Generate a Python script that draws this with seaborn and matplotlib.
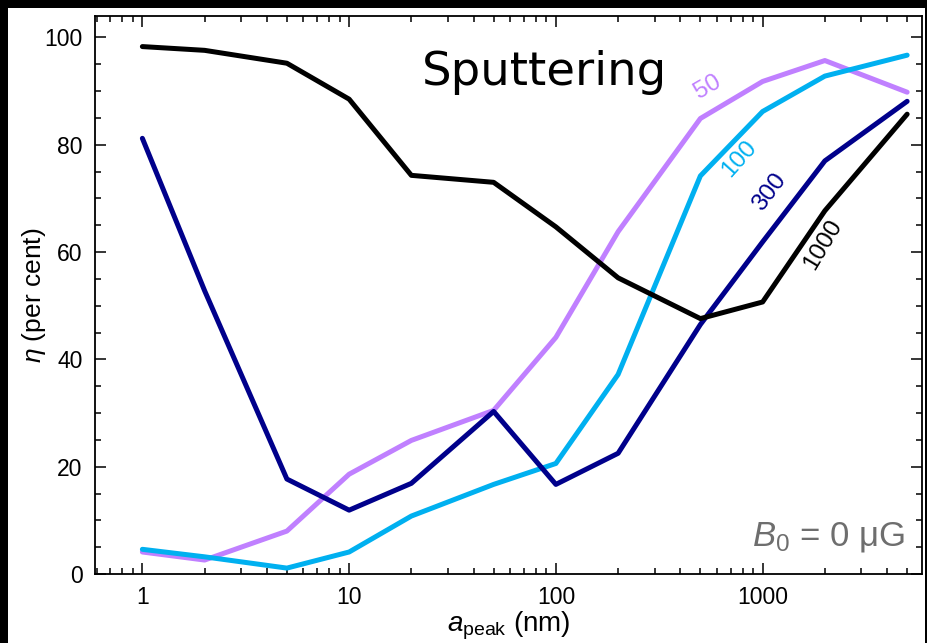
import numpy as np
import pandas as pd
import matplotlib
matplotlib.use("Agg")
import matplotlib.pyplot as plt
from matplotlib.patches import Rectangle
from matplotlib.ticker import FixedLocator, NullFormatter, MultipleLocator
import seaborn as sns

a_peak = [1, 2, 5, 10, 20, 50, 100, 200, 500, 1000, 2000, 5000]
eta_50 = [4.1, 2.6, 8.0, 18.6, 24.9, 30.5, 44.1, 63.8, 84.9, 91.8, 95.7, 89.8]
eta_100 = [4.6, 3.2, 1.1, 4.1, 10.8, 16.7, 20.6, 37.2, 74.2, 86.2, 92.8, 96.7]
eta_300 = [81.2, 52.8, 17.7, 11.9, 16.9, 30.3, 16.7, 22.5, 46.5, 61.9, 77.0, 88.1]
eta_1000 = [98.3, 97.6, 95.2, 88.5, 74.3, 73.0, 64.7, 55.2, 47.6, 50.7, 67.7, 85.7]
series_names = ["50", "100", "300", "1000"]
series_colors = ["#C080FF", "#00B0F0", "#00008B", "#000000"]
x_ticks = [1, 10, 100, 1000]
x_ticklabels = ["1", "10", "100", "1000"]
y_ticks = [0, 20, 40, 60, 80, 100]

rows = []
for name, vals in zip(series_names, [eta_50, eta_100, eta_300, eta_1000]):
    for x, v in zip(a_peak, vals):
        rows.append({"a": x, "eta": v, "n": name})
df = pd.DataFrame(rows)

sns.set_style("ticks")
plt.rcParams["font.family"] = ["Liberation Sans", "DejaVu Sans"]
plt.rcParams["mathtext.fontset"] = "custom"
plt.rcParams["mathtext.rm"] = "Liberation Sans"
plt.rcParams["mathtext.it"] = "Liberation Sans:italic"
plt.rcParams["text.color"] = "black"
plt.rcParams["axes.labelcolor"] = "black"

fig = plt.figure(figsize=(9.28, 6.43), dpi=100)
fig.patch.set_facecolor("black")
fig.patches.append(Rectangle((8 / 928, 0), (925 - 8) / 928, 635 / 643,
                             transform=fig.transFigure, facecolor="white",
                             edgecolor="none", zorder=-10))
ax = fig.add_axes([95 / 928, 1 - 574 / 643, (922 - 95) / 928, (574 - 16) / 643])

sns.lineplot(data=df, x="a", y="eta", hue="n", hue_order=series_names,
             palette=series_colors, linewidth=3.6, ax=ax, legend=False)

ax.set_xscale("log")
ax.set_xlim(0.59, 5900)
ax.set_ylim(0, 104)
ax.xaxis.set_major_locator(FixedLocator(x_ticks))
ax.set_xticklabels(x_ticklabels)
minors = [m * 10 ** d for d in range(-1, 4) for m in range(2, 10)]
ax.xaxis.set_minor_locator(FixedLocator(minors))
ax.xaxis.set_minor_formatter(NullFormatter())
ax.set_yticks(y_ticks)
ax.yaxis.set_minor_locator(MultipleLocator(5))

ax.tick_params(which="both", direction="in", top=True, right=True,
               labelsize=16.5, colors="black", width=1.1)
ax.tick_params(which="major", length=8, pad=9)
ax.tick_params(which="minor", length=4)
for s in ax.spines.values():
    s.set_linewidth(1.3)
    s.set_color("black")

ax.set_xlabel(r"$a_{\rm peak}$ (nm)", fontsize=20, labelpad=0.5)
ax.set_ylabel(r"$\eta$ (per cent)", fontsize=19, labelpad=-3)

ax.text(0.543, 0.8996, "Sputtering", transform=ax.transAxes, fontsize=33.5,
        ha="center", va="center", family="DejaVu Sans", color="black")
ax.text(0.979, 0.067, r"$B_0$ = 0 μG", transform=ax.transAxes, fontsize=25,
        ha="right", va="center", color="#6E6E6E")

labels = [("50", 543, 90.8, 30), ("100", 770, 77.4, 48),
          ("300", 1082, 71.2, 53), ("1000", 1950, 61.3, 59)]
for (txt, x, y, rot), c in zip(labels, series_colors):
    ax.text(x, y, txt, color=c, fontsize=17.5, rotation=rot,
            ha="center", va="center", rotation_mode="anchor")

fig.savefig("out.png", dpi=100, facecolor=fig.get_facecolor())
